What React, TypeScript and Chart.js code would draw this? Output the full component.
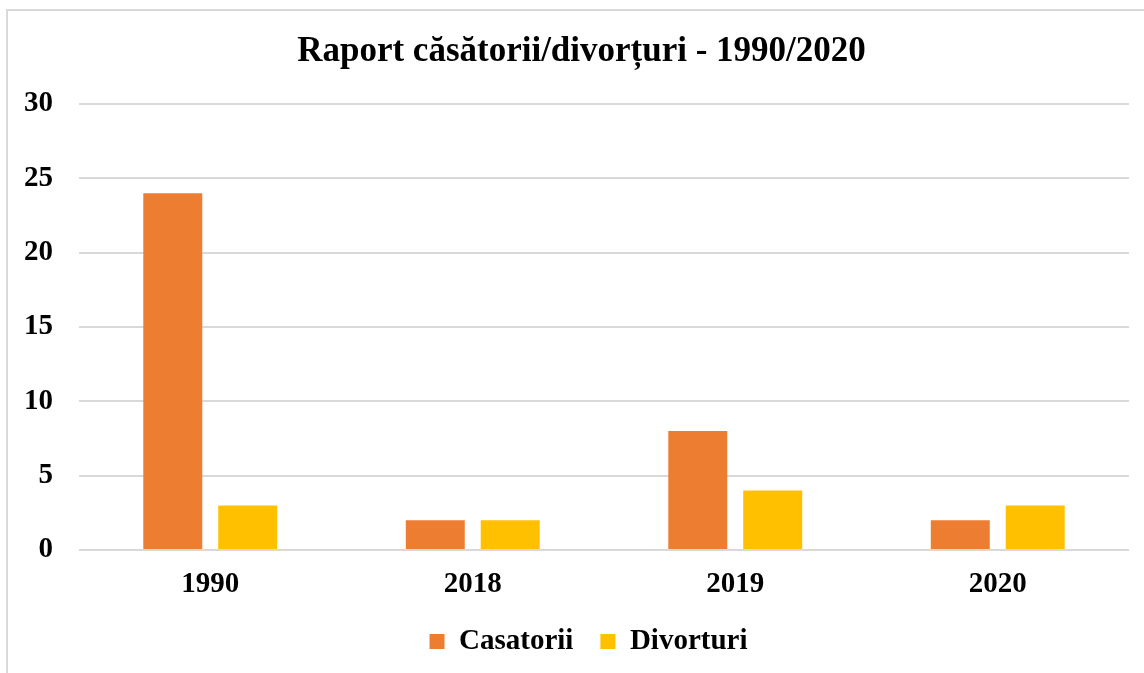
import React, { useEffect, useRef } from "react";
import { Chart, registerables } from "chart.js";

Chart.register(...registerables);

const categories = ["1990", "2018", "2019", "2020"];
const casatorii = [24, 2, 8, 2];
const divorturi = [3, 2, 4, 3];
const titleText = "Raport căsătorii/divorțuri - 1990/2020";

const shiftBlocks = {
  id: "shiftBlocks",
  afterLayout(chart: any) {
    if (chart.legend) {
      chart.legend.left += 20;
      chart.legend.right += 20;
    }
    if (chart.titleBlock) {
      chart.titleBlock.left += 13;
      chart.titleBlock.right += 13;
    }
  },
};

export default function App() {
  const ref = useRef<HTMLCanvasElement | null>(null);

  useEffect(() => {
    if (!ref.current) return;
    const font = "'Liberation Serif', 'Times New Roman', serif";
    const chart = new Chart(ref.current, {
      type: "bar",
      data: {
        labels: categories,
        datasets: [
          {
            label: "Casatorii",
            data: casatorii,
            backgroundColor: "#ED7D31",
            categoryPercentage: 0.571,
            barPercentage: 0.787,
          },
          {
            label: "Divorturi",
            data: divorturi,
            backgroundColor: "#FFC000",
            categoryPercentage: 0.571,
            barPercentage: 0.787,
          },
        ],
      },
      plugins: [shiftBlocks],
      options: {
        animation: false,
        responsive: false,
        layout: { padding: { left: 0, right: 15, top: 20, bottom: 7 } },
        plugins: {
          title: {
            display: true,
            text: titleText,
            color: "#000",
            font: { family: font, size: 35, weight: "bold" },
            padding: { top: 0, bottom: 31 },
          },
          legend: {
            position: "bottom",
            labels: {
              color: "#000",
              font: { family: font, size: 29, weight: "bold" },
              boxWidth: 15,
              boxHeight: 15,
              padding: 27,
            },
          },
          tooltip: { enabled: false },
        },
        scales: {
          x: {
            grid: { display: false, drawTicks: false },
            border: { display: false },
            ticks: {
              color: "#000",
              font: { family: font, size: 29, weight: "bold" },
              padding: 17,
            },
            afterFit: (scale: any) => {
              scale.height = 50;
            },
          },
          y: {
            min: 0,
            max: 30,
            border: { display: false },
            grid: { color: "#d9d9d9", lineWidth: 2, drawTicks: false },
            ticks: {
              stepSize: 5,
              color: "#000",
              font: { family: font, size: 29, weight: "bold" },
              padding: 26,
            },
            afterFit: (scale: any) => {
              scale.width = 71;
            },
          },
        },
      },
    });
    return () => chart.destroy();
  }, []);

  return (
    <div
      style={{
        position: "absolute",
        left: 6,
        top: 9,
        width: 1138,
        height: 664,
        boxSizing: "border-box",
        borderLeft: "2px solid #d9d9d9",
        borderTop: "2px solid #d9d9d9",
        background: "#fff",
      }}
    >
      <canvas ref={ref} width={1136} height={662} style={{ display: "block" }} />
    </div>
  );
}
